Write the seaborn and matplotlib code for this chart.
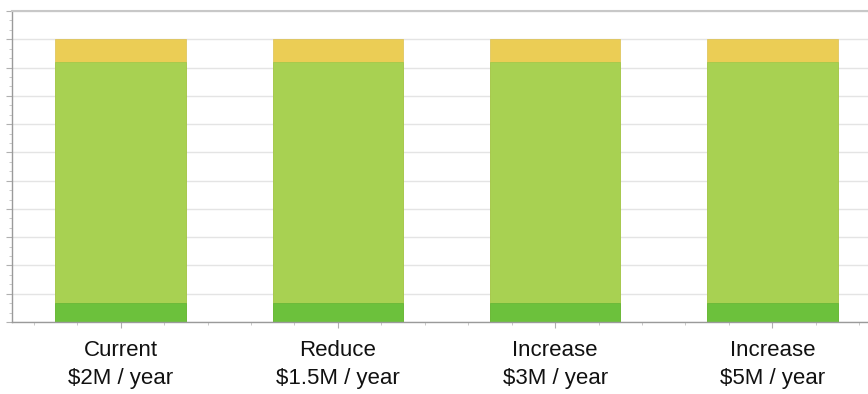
import numpy as np
import pandas as pd
import matplotlib.pyplot as plt
import seaborn as sns
from matplotlib.ticker import MultipleLocator

# --- datos ---
categorias = ["Current\n$2M / year", "Reduce\n$1.5M / year",
              "Increase\n$3M / year", "Increase\n$5M / year"]
base_verde = [0.67, 0.67, 0.67, 0.67]      # franja verde oscura
medio_verde = [8.53, 8.53, 8.53, 8.53]     # bloque verde claro
tope_amarillo = [0.8, 0.8, 0.8, 0.8]       # franja amarilla superior

df = pd.DataFrame({
    "categoria": categorias,
    "base": base_verde,
    "medio": medio_verde,
    "tope": tope_amarillo,
})
df["acum_medio"] = df["base"] + df["medio"]
df["acum_tope"] = df["acum_medio"] + df["tope"]

sns.set_style("white")
plt.rcParams["font.family"] = ["Liberation Sans", "DejaVu Sans"]

fig = plt.figure(figsize=(8.68, 3.94), dpi=100)
ax = fig.add_axes([0.0138, 0.1827, 0.9862, 0.7893])

# barras apiladas: se dibuja de la más alta a la más baja
sns.barplot(data=df, x="categoria", y="acum_tope", color="#ebcd55",
            width=0.6, edgecolor="#dcc050", linewidth=0.5, saturation=1, ax=ax)
sns.barplot(data=df, x="categoria", y="acum_medio", color="#a8d152",
            width=0.6, edgecolor="#9cc74a", linewidth=0.5, saturation=1, ax=ax)
sns.barplot(data=df, x="categoria", y="base", color="#6cc13c",
            width=0.6, edgecolor="#62b536", linewidth=0.5, saturation=1, ax=ax)

ax.set_ylim(0, 11)
ax.set_xlim(-0.5, 3.44)
ax.yaxis.set_major_locator(MultipleLocator(1))
ax.yaxis.set_minor_locator(MultipleLocator(1 / 3))
ax.xaxis.set_minor_locator(MultipleLocator(0.2))
ax.set_yticklabels([])
ax.grid(axis="y", color="#e4e4e4", linewidth=1)
ax.set_axisbelow(True)

for lado in ["left", "bottom"]:
    ax.spines[lado].set_color("#9a9a9a")
    ax.spines[lado].set_linewidth(1)
ax.spines["top"].set_color("#c8c8c8")
ax.spines["top"].set_linewidth(1.5)
ax.spines["right"].set_visible(False)

ax.tick_params(axis="y", which="major", left=True, length=4, color="#b0b0b0")
ax.tick_params(axis="y", which="minor", left=True, length=2, color="#c0c0c0")
ax.tick_params(axis="x", which="major", bottom=True, length=4, color="#b0b0b0",
               labelsize=16, pad=9, labelcolor="#111111")
ax.tick_params(axis="x", which="minor", bottom=True, length=2, color="#c0c0c0")
for etiqueta in ax.get_xticklabels():
    etiqueta.set_linespacing(1.45)

ax.set_xlabel("")
ax.set_ylabel("")

fig.savefig("out.png", dpi=100)
